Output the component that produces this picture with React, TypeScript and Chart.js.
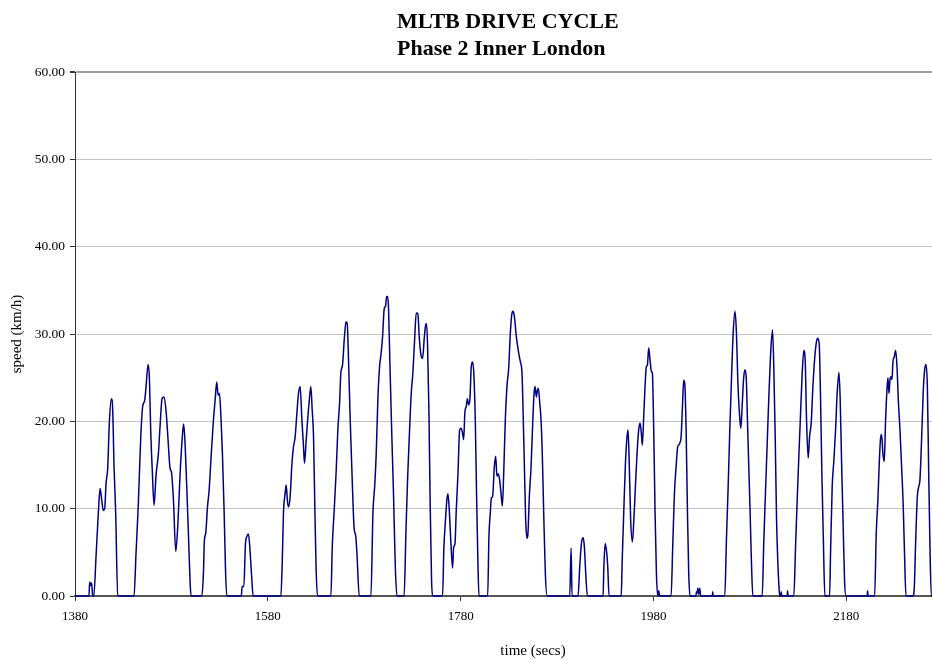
import React, { useEffect, useRef } from "react";
import { Chart, registerables } from "chart.js";

Chart.register(...registerables);

// ---- data (time in seconds, speed in km/h) ----
const times: number[] = [
  1380, 1394.5, 1395.2, 1396.3, 1397.3, 1398.3, 1399.5, 1401.8, 1404.2, 1406.0,
  1407.7, 1409.4, 1410.8, 1412.2, 1413.9, 1415.6, 1417.7, 1419.1, 1420.5, 1422.2,
  1424.3, 1441.2, 1443.3, 1445.7, 1448.2, 1450.2, 1452.3, 1453.7, 1455.8, 1457.2,
  1458.5, 1460.3, 1462.0, 1464.1, 1466.5, 1468.2, 1470.3, 1472.4, 1474.5, 1476.5,
  1478.6, 1480.0, 1482.1, 1484.5, 1486.9, 1489.0, 1491.1, 1492.6, 1493.8, 1495.9,
  1497.6, 1499.4, 1500.4, 1511.5, 1513.2, 1514.2, 1515.6, 1517.4, 1519.1, 1521.2,
  1523.6, 1525.3, 1527.0, 1528.4, 1529.8, 1531.2, 1532.9, 1534.7, 1536.0, 1537.4,
  1552.5, 1553.3, 1555.1, 1556.8, 1558.2, 1559.9, 1561.6, 1563.0, 1564.8, 1593.5,
  1594.9, 1596.2, 1598.0, 1599.0, 1600.4, 1601.4, 1603.2, 1604.9, 1606.6, 1608.3,
  1610.1, 1611.8, 1613.5, 1615.3, 1617.0, 1618.0, 1619.8, 1621.5, 1622.9, 1624.6,
  1626.0, 1627.4, 1628.8, 1630.1, 1631.5, 1645.4, 1646.8, 1648.8, 1650.9, 1652.6,
  1654.4, 1655.7, 1657.5, 1659.2, 1661.0, 1662.3, 1663.7, 1665.4, 1667.5, 1669.6,
  1671.0, 1672.4, 1674.8, 1686.9, 1689.0, 1691.0, 1692.4, 1694.2, 1695.9, 1697.3,
  1699.0, 1700.7, 1702.1, 1703.2, 1704.2, 1705.2, 1706.6, 1708.7, 1710.4, 1712.1,
  1713.9, 1721.3, 1723.2, 1724.9, 1727.0, 1728.7, 1730.4, 1732.2, 1733.9, 1735.6,
  1737.0, 1738.8, 1740.5, 1742.2, 1743.6, 1744.6, 1745.7, 1747.1, 1748.4, 1749.8,
  1750.9, 1761.2, 1762.6, 1764.0, 1765.7, 1766.8, 1768.2, 1769.9, 1771.6, 1772.7,
  1774.1, 1775.4, 1777.2, 1778.9, 1780.3, 1781.7, 1783.1, 1784.4, 1785.8, 1786.9,
  1788.2, 1789.6, 1791.0, 1792.4, 1793.8, 1795.2, 1796.5, 1797.9, 1799.0, 1808.0,
  1809.3, 1810.7, 1811.8, 1813.1, 1814.9, 1816.3, 1817.6, 1819.0, 1820.4, 1821.8,
  1823.2, 1824.6, 1826.3, 1828.0, 1829.8, 1831.5, 1833.2, 1834.3, 1835.7, 1837.7,
  1840.2, 1841.9, 1843.6, 1844.6, 1846.0, 1847.4, 1848.8, 1849.8, 1851.2, 1853.0,
  1854.7, 1856.1, 1857.1, 1858.5, 1859.5, 1860.6, 1862.0, 1863.3, 1864.7, 1866.1,
  1867.8, 1869.6, 1893.1, 1894.5, 1895.5, 1901.7, 1903.5, 1905.2, 1906.9, 1908.3,
  1909.7, 1911.4, 1927.7, 1928.4, 1929.8, 1931.2, 1932.5, 1933.9, 1946.5, 1947.5,
  1949.1, 1950.8, 1952.5, 1953.6, 1954.9, 1956.3, 1958.1, 1959.4, 1961.2, 1962.9,
  1964.6, 1966.0, 1967.4, 1968.4, 1969.8, 1971.2, 1972.6, 1973.6, 1975.0, 1976.4,
  1977.8, 1978.8, 1980.2, 1981.6, 1983.0, 1984.4, 1985.4, 1986.4, 1998.2, 1999.9,
  2001.7, 2003.4, 2005.1, 2006.2, 2007.2, 2008.6, 2010.0, 2011.3, 2012.4, 2013.8,
  2015.1, 2016.5, 2017.9, 2024.0, 2024.5, 2025.3, 2025.9, 2027.0, 2027.9, 2029.0,
  2041.0, 2041.4, 2041.8, 2053.9, 2055.6, 2057.4, 2059.1, 2060.8, 2062.6, 2064.5,
  2066.0, 2067.4, 2069.1, 2070.5, 2071.9, 2073.3, 2074.7, 2076.1, 2077.4, 2078.8,
  2080.2, 2081.6, 2083.0, 2092.7, 2094.4, 2096.1, 2097.9, 2099.6, 2101.3, 2103.4,
  2104.8, 2106.2, 2107.6, 2109.0, 2110.3, 2111.0, 2112.0, 2112.4, 2113.0, 2118.6,
  2119.0, 2119.5, 2125.5, 2127.3, 2129.0, 2130.7, 2132.5, 2134.2, 2135.9, 2137.3,
  2138.7, 2140.4, 2141.8, 2143.5, 2145.3, 2147.0, 2148.7, 2150.1, 2151.8, 2153.2,
  2154.6, 2156.3, 2157.7, 2162.6, 2163.6, 2165.3, 2167.1, 2168.8, 2170.5, 2172.3,
  2173.6, 2175.0, 2176.8, 2178.1, 2179.5, 2201.6, 2202.0, 2202.5, 2209.3, 2211.0,
  2212.7, 2214.1, 2215.5, 2216.6, 2217.9, 2219.3, 2220.7, 2222.1, 2223.1, 2224.2,
  2225.2, 2226.2, 2227.3, 2228.3, 2229.7, 2231.1, 2232.5, 2233.9, 2235.6, 2237.3,
  2239.0, 2240.4, 2241.8, 2249.1, 2250.5, 2251.8, 2253.6, 2255.0, 2256.3, 2258.1,
  2259.8, 2261.2, 2262.6, 2264.0, 2265.3, 2266.7, 2268.1, 2275.0,
];

const speeds: number[] = [
  0, 0, 1.6, 1.2, 1.5, 0, 0, 4.5, 9.5, 12.3,
  11.0, 9.8, 10.0, 12.9, 14.6, 19.8, 22.6, 21.3, 14.8, 9.5,
  0, 0, 4.9, 10.6, 18.2, 21.7, 22.4, 24.0, 26.5, 24.9,
  19.0, 14.0, 10.4, 13.9, 16.3, 19.4, 22.6, 22.8, 21.1, 17.9,
  14.6, 14.2, 11.0, 5.1, 8.7, 14.0, 17.9, 19.7, 18.2, 12.5,
  7.2, 1.5, 0, 0, 2.6, 6.4, 7.2, 10.2, 12.1, 16.0,
  20.2, 22.4, 24.5, 23.0, 23.2, 20.9, 16.3, 9.5, 3.4, 0,
  0, 1.1, 1.1, 6.0, 6.8, 7.1, 5.1, 2.6, 0, 0,
  3.7, 9.5, 11.8, 12.7, 10.8, 10.2, 11.5, 15.0, 17.1, 18.2,
  20.9, 23.2, 24.0, 20.2, 17.1, 15.2, 17.9, 20.5, 22.3, 24.0,
  21.3, 18.2, 9.8, 3.0, 0, 0, 5.6, 9.8, 14.4, 19.0,
  22.1, 25.5, 26.5, 29.3, 31.4, 31.2, 27.0, 20.2, 13.3, 7.6,
  7.0, 4.9, 0, 0, 9.5, 12.9, 16.3, 22.8, 26.3, 27.6,
  29.7, 32.9, 33.2, 34.3, 34.3, 32.9, 26.6, 17.9, 11.4, 3.7,
  0, 0, 7.2, 13.3, 19.0, 23.2, 25.5, 29.3, 32.4, 32.3,
  29.7, 27.6, 27.2, 29.5, 31.0, 31.2, 28.5, 20.9, 10.2, 1.8,
  0, 0, 5.6, 8.3, 11.0, 11.7, 9.8, 6.0, 3.2, 5.6,
  6.0, 9.8, 14.0, 19.0, 19.2, 18.8, 17.9, 21.1, 21.7, 22.6,
  21.9, 22.6, 26.3, 26.8, 25.1, 19.8, 11.4, 3.7, 0, 0,
  6.8, 9.5, 11.2, 11.4, 14.8, 16.0, 13.7, 14.0, 13.3, 11.8,
  10.3, 14.0, 20.2, 24.0, 26.1, 30.1, 32.4, 32.6, 32.0, 29.7,
  27.8, 26.8, 25.5, 21.7, 15.2, 8.7, 6.6, 7.2, 11.4, 14.8,
  19.8, 23.2, 24.0, 22.8, 23.5, 23.8, 22.1, 20.2, 16.0, 9.5,
  2.6, 0, 0, 5.5, 0, 0, 3.4, 6.0, 6.7, 5.6,
  2.6, 0, 0, 3.0, 6.0, 5.2, 3.4, 0, 0, 4.0,
  9.5, 15.0, 18.2, 19.0, 14.8, 8.7, 6.2, 8.3, 12.5, 16.3,
  19.0, 19.8, 18.6, 17.3, 20.5, 24.0, 26.3, 26.4, 28.4, 27.0,
  25.7, 25.5, 19.0, 9.5, 2.6, 0, 0.6, 0, 0, 5.6,
  11.8, 14.8, 17.1, 17.3, 17.5, 18.2, 21.7, 24.7, 24.3, 19.0,
  10.2, 2.6, 0, 0, 0.5, 0.3, 0.9, 0.2, 0.9, 0,
  0, 0.5, 0, 0, 6.4, 12.5, 19.0, 24.7, 30.1, 32.6,
  30.1, 24.7, 20.9, 19.2, 21.7, 24.7, 25.9, 25.1, 20.2, 14.8,
  9.5, 3.7, 0, 0, 6.4, 11.8, 17.5, 22.8, 27.4, 30.5,
  25.9, 18.2, 8.7, 3.7, 0.7, 0, 0, 0.5, 0, 0,
  0.6, 0, 0, 5.6, 11.0, 16.0, 20.9, 25.5, 28.1, 27.0,
  20.2, 15.8, 18.2, 19.8, 24.0, 27.0, 28.9, 29.5, 28.9, 22.8,
  14.0, 5.6, 0, 0, 4.9, 12.5, 15.6, 19.0, 23.3, 25.6,
  22.5, 15.5, 7.5, 1.8, 0, 0, 0.6, 0, 0, 7.2,
  11.0, 15.2, 18.1, 18.5, 16.3, 15.4, 20.2, 23.6, 25.0, 23.2,
  24.7, 25.1, 24.8, 26.8, 27.4, 28.1, 26.3, 22.4, 19.0, 14.8,
  10.2, 4.5, 0, 0, 1.1, 6.0, 11.4, 12.5, 13.3, 18.2,
  23.6, 25.9, 26.5, 24.0, 14.8, 5.6, 0, 0,
];

const xTickValues: number[] = [1380, 1580, 1780, 1980, 2180];
const yTickValues: number[] = [0, 10, 20, 30, 40, 50, 60];
const titleLines: string[] = ["MLTB DRIVE CYCLE", "Phase 2 Inner London"];
const xAxisTitle = "time (secs)";
const yAxisTitle = "speed (km/h)";
const X_MIN = 1380;
const X_MAX = 2330;
const Y_MIN = 0;
const Y_MAX = 60;

const SERIF = '"Liberation Serif", "Times New Roman", Times, serif';

const titlePlugin = {
  id: "leftTitle",
  afterDraw(chart: any) {
    const ctx = chart.ctx;
    ctx.save();
    ctx.font = `bold 22px ${SERIF}`;
    ctx.fillStyle = "#000";
    ctx.textAlign = "left";
    ctx.textBaseline = "alphabetic";
    ctx.fillText(titleLines[0], 397, 28);
    ctx.fillText(titleLines[1], 397, 55);
    ctx.restore();
  },
};

const bgPlugin = {
  id: "whiteBg",
  beforeDraw(chart: any) {
    const ctx = chart.ctx;
    ctx.save();
    ctx.fillStyle = "#fff";
    ctx.fillRect(0, 0, chart.width, chart.height);
    ctx.restore();
  },
};

export default function App() {
  const ref = useRef<HTMLCanvasElement | null>(null);

  useEffect(() => {
    if (!ref.current) return;
    const data = times.map((t, i) => ({ x: t, y: speeds[i] }));
    const chart = new Chart(ref.current, {
      type: "line",
      data: {
        datasets: [
          {
            data,
            borderColor: "#000080",
            borderWidth: 1.5,
            pointRadius: 0,
            fill: false,
            cubicInterpolationMode: "monotone",
            clip: 4,
          } as any,
        ],
      },
      plugins: [bgPlugin, titlePlugin],
      options: {
        responsive: false,
        animation: false,
        events: [],
        layout: { padding: { top: 72, right: 9, bottom: 0, left: 0 } },
        plugins: {
          legend: { display: false },
          title: { display: false },
          tooltip: { enabled: false },
        },
        scales: {
          x: {
            type: "linear",
            min: X_MIN,
            max: X_MAX,
            afterBuildTicks: (s: any) => {
              s.ticks = xTickValues.map((v) => ({ value: v }));
            },
            afterFit: (s: any) => {
              s.height = 64;
            },
            ticks: {
              autoSkip: false,
              maxRotation: 0,
              padding: 8,
              color: "#000",
              font: { family: SERIF, size: 13 },
              callback: (v: any) => String(v),
            },
            grid: {
              display: true,
              drawOnChartArea: false,
              drawTicks: true,
              tickLength: 5,
              tickColor: "#333",
            },
            border: { display: true, color: "#555", width: 2 },
            title: {
              display: true,
              text: xAxisTitle,
              color: "#000",
              font: { family: SERIF, size: 15 },
              padding: { top: 0, bottom: 0 },
            },
          },
          y: {
            type: "linear",
            min: Y_MIN,
            max: Y_MAX,
            afterBuildTicks: (s: any) => {
              s.ticks = yTickValues.map((v) => ({ value: v }));
            },
            afterFit: (s: any) => {
              s.width = 75;
            },
            ticks: {
              padding: 5,
              color: "#000",
              font: { family: SERIF, size: 13.5 },
              callback: (v: any) => Number(v).toFixed(2),
            },
            grid: {
              color: (c: any) => (c.tick && c.tick.value === 60 ? "#a0a0a0" : "#c4c4c4"),
              lineWidth: (c: any) => (c.tick && c.tick.value === 60 ? 2 : 1),
              drawTicks: true,
              tickLength: 5,
              tickColor: "#333",
            },
            border: { display: true, color: "#333", width: 1 },
            title: {
              display: true,
              text: yAxisTitle,
              color: "#000",
              font: { family: SERIF, size: 15 },
              padding: { top: 8, bottom: 0 },
            },
          },
        },
      } as any,
    });
    return () => chart.destroy();
  }, []);

  return (
    <div
      style={{
        position: "fixed",
        top: 0,
        left: 0,
        width: 932,
        height: 660,
        overflow: "hidden",
        background: "#fff",
      }}
    >
      <canvas ref={ref} width={1000} height={660} style={{ display: "block" }} />
    </div>
  );
}
